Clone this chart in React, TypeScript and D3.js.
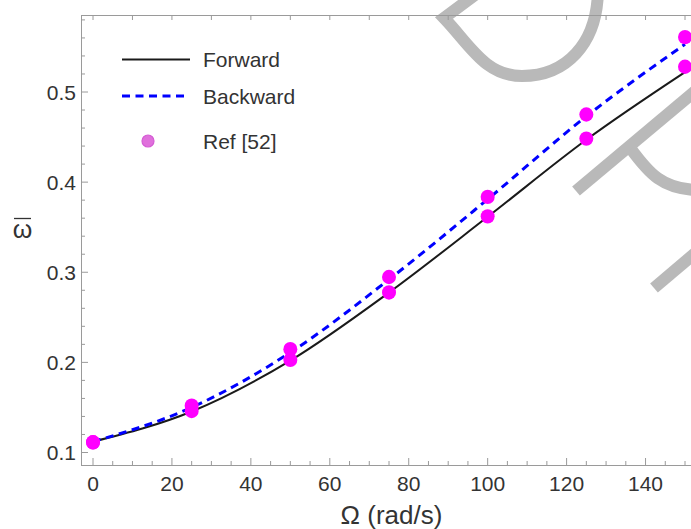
import React from "react";
import * as d3 from "d3";

const omega = [0, 25, 50, 75, 100, 125, 150];
const forwardCurve = [0.112, 0.1455, 0.202, 0.2775, 0.3615, 0.447, 0.522];
const backwardCurve = [0.112, 0.150, 0.211, 0.292, 0.381, 0.473, 0.553];
const refLower = [0.1113, 0.1461, 0.2028, 0.2776, 0.362, 0.4483, 0.528];
const refUpper = [0.1113, 0.152, 0.2147, 0.2947, 0.3836, 0.475, 0.5609];
const xMajor = [0, 20, 40, 60, 80, 100, 120, 140];
const yMajor = [0.1, 0.2, 0.3, 0.4, 0.5];
const legendLabels = ["Forward", "Backward", "Ref [52]"];

export default function App() {
  const W = 691, H = 529;
  const left = 81, bottom = 465, top = 15, right = 691;
  const x = d3.scaleLinear().domain([0, 150]).range([93, 685]);
  const y = d3.scaleLinear().domain([0.1, 0.5]).range([452.5, 92]);

  const xMinor = d3.range(0, 151, 5).filter((v) => v % 20 !== 0);
  const xTop = d3.range(0, 151, 10);
  const yMinor = d3.range(0.1, 0.59, 0.02).filter((v) => Math.abs(v * 10 - Math.round(v * 10)) > 1e-6);

  const line = d3
    .line<number>()
    .x((_, i) => x(omega[i]))
    .y((d) => y(d))
    .curve(d3.curveMonotoneX);

  const axisColor = "#9a9a9a";
  const textColor = "#333";
  const font = "'Liberation Sans', Arial, sans-serif";
  const wm = "#b9b9b9";

  return (
    <svg width={W} height={H} style={{ position: "absolute", left: 0, top: 0 }} fontFamily={font}>
      <rect width={W} height={H} fill="#fff" />
      {/* watermark */}
      <g fill="none" stroke={wm} strokeWidth={12}>
        <path d="M 487 -14 L 444 18 C 470 45, 485 76, 522 76 C 565 76, 598 45, 598 -12" />
        <path d="M 576 191 L 700 87" />
        <path d="M 631 149 C 648 172, 662 190, 700 190" />
        <path d="M 654 288 L 700 249" />
      </g>
      {/* frame */}
      <g stroke={axisColor} strokeWidth={1} fill="none">
        <line x1={left} y1={bottom + 0.5} x2={right} y2={bottom + 0.5} />
        <line x1={left + 0.5} y1={top} x2={left + 0.5} y2={bottom} />
        <line x1={left} y1={top + 0.5} x2={right} y2={top + 0.5} />
        {xMajor.map((v) => (
          <line key={"xm" + v} x1={x(v)} x2={x(v)} y1={bottom} y2={bottom - 7} />
        ))}
        {xMinor.map((v) => (
          <line key={"xn" + v} x1={x(v)} x2={x(v)} y1={bottom} y2={bottom - 4} />
        ))}
        {xTop.map((v) => (
          <line key={"xt" + v} x1={x(v)} x2={x(v)} y1={top} y2={top + 5} />
        ))}
        {yMajor.map((v) => (
          <line key={"ym" + v} x1={left} x2={left + 7} y1={y(v)} y2={y(v)} />
        ))}
        {yMinor.map((v) => (
          <line key={"yn" + v} x1={left} x2={left + 4} y1={y(v)} y2={y(v)} />
        ))}
      </g>
      {/* tick labels */}
      <g fill={textColor} fontSize={21}>
        {xMajor.map((v) => (
          <text key={"xl" + v} x={x(v)} y={491} textAnchor="middle">
            {v}
          </text>
        ))}
        {yMajor.map((v) => (
          <text key={"yl" + v} x={76} y={y(v) + 7.5} textAnchor="end">
            {v.toFixed(1)}
          </text>
        ))}
      </g>
      {/* axis labels */}
      <text x={391.5} y={524} textAnchor="middle" fontSize={26} fill={textColor}>
        Ω (rad/s)
      </text>
      <text x={22.5} y={238} textAnchor="middle" fontSize={25} fill={textColor}>
        ω
      </text>
      <line x1={14} x2={31} y1={218.5} y2={218.5} stroke={textColor} strokeWidth={1.3} />
      {/* curves */}
      <path d={line(forwardCurve) || ""} fill="none" stroke="#1a1a1a" strokeWidth={2} />
      <path d={line(backwardCurve) || ""} fill="none" stroke="#0000ff" strokeWidth={3} strokeDasharray="8,5.5" />
      {/* reference points */}
      <g fill="#ff00ff">
        {omega.map((v, i) => (
          <ellipse key={"pl" + i} cx={x(v)} cy={y(refLower[i])} rx={7} ry={7.2} />
        ))}
        {omega.map((v, i) => (
          <ellipse key={"pu" + i} cx={x(v)} cy={y(refUpper[i])} rx={7} ry={7.2} />
        ))}
      </g>
      {/* legend */}
      <g>
        <line x1={122} x2={190} y1={59.5} y2={59.5} stroke="#1a1a1a" strokeWidth={2} />
        <line x1={122} x2={188} y1={96} y2={96} stroke="#0000ff" strokeWidth={3} strokeDasharray="8,5.5" />
        <circle cx={148} cy={141} r={6} fill="#e070dc" stroke="#d45cd4" strokeWidth={1.2} />
        <g fill={textColor} fontSize={21}>
          <text x={203} y={67}>{legendLabels[0]}</text>
          <text x={203} y={104}>{legendLabels[1]}</text>
          <text x={203} y={149}>{legendLabels[2]}</text>
        </g>
      </g>
    </svg>
  );
}
